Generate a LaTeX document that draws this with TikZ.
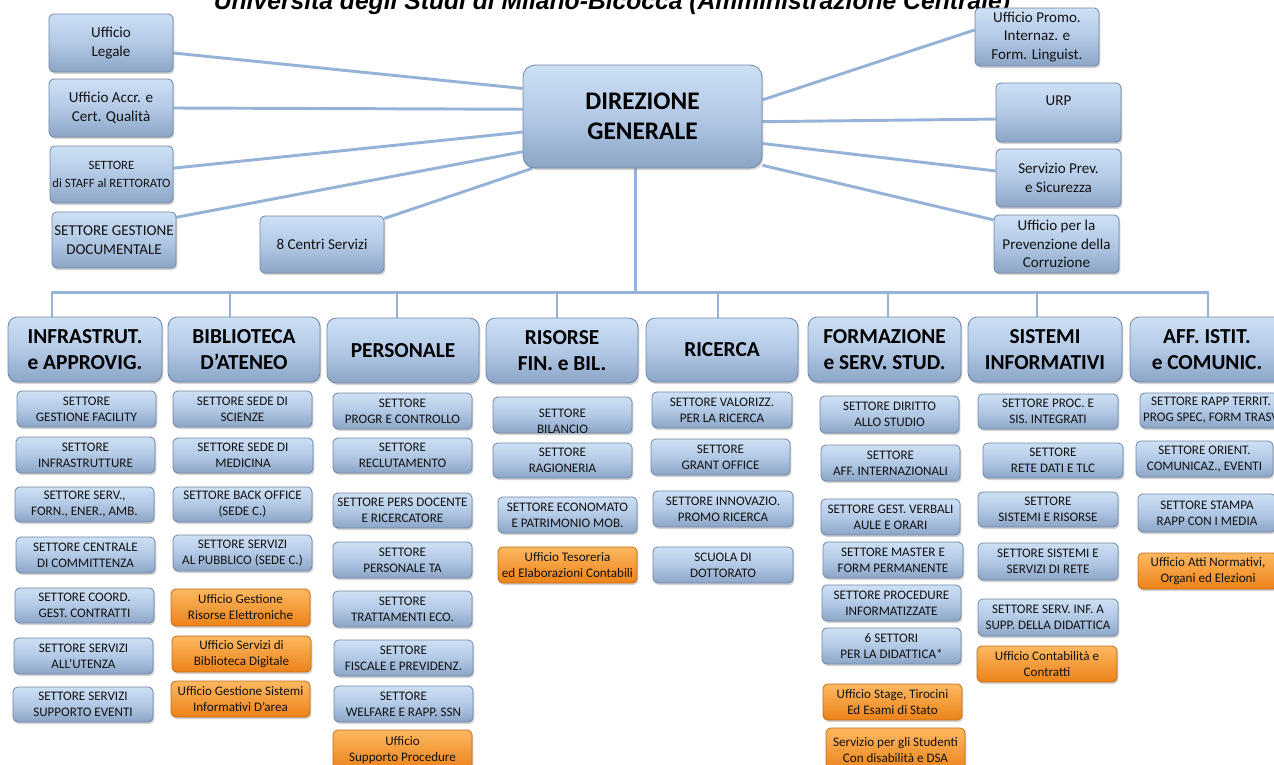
\documentclass[tikz,border=0pt]{standalone}
\usepackage{fontspec}
\setmainfont{Carlito}
\newfontfamily\ttlfont{Liberation Sans}
\usetikzlibrary{shadows,calc}
\definecolor{lnc}{RGB}{149,179,215}
\definecolor{btop}{RGB}{205,224,244}
\definecolor{bmid}{RGB}{178,201,230}
\definecolor{bbot}{RGB}{140,165,198}
\definecolor{bdr}{RGB}{112,134,166}
\definecolor{otop}{RGB}{253,184,96}
\definecolor{obot}{RGB}{236,130,26}
\definecolor{odr}{RGB}{196,108,22}
\definecolor{txt}{RGB}{18,18,18}
\pgfdeclarelayer{bg}\pgfsetlayers{bg,main}
\newcommand\mkbox[7]{%
  \pgfmathsetmacro\mbX{(#3+#5)/2}%
  \pgfmathsetmacro\mbY{(#4+#6)/2}%
  \pgfmathsetmacro\mbW{(#5-#3)*0.75}%
  \pgfmathsetmacro\mbH{(#6-#4)*0.75}%
  \node[#2, minimum width=\mbW pt, minimum height=\mbH pt] (#1) at (\mbX,\mbY) {#7};}
\begin{document}
\begin{tikzpicture}[x=0.75pt,y=-0.75pt,
  base/.style={rounded corners=3.5pt, align=center, inner sep=1pt, text=txt, line width=0.6pt,
    drop shadow={opacity=0.35,shadow xshift=1pt,shadow yshift=-1.5pt}},
  bluebox/.style={base, draw=bdr, top color=btop, bottom color=bbot, middle color=bmid},
  orbox/.style={base, draw=odr, top color=otop, bottom color=obot},
  sub/.style={bluebox, font=\fontsize{9.8}{12}\selectfont},
  osub/.style={orbox, font=\fontsize{9.8}{12}\selectfont},
  topb/.style={bluebox, font=\fontsize{11.3}{14}\selectfont},
  head/.style={bluebox, rounded corners=7pt, text=black, font=\fontsize{16}{20}\selectfont\bfseries},
  dgs/.style={bluebox, rounded corners=9pt, text=black, font=\fontsize{19}{22.5}\selectfont\bfseries},
  conn/.style={draw=lnc, line width=2.2pt}
]
\useasboundingbox (0,0) rectangle (1274,764);
\clip (0,0) rectangle (1274,764);

% title (cut at top)
\node[font=\ttlfont\bfseries\itshape\fontsize{18.5}{22}\selectfont, anchor=base, text=black, inner sep=0pt] (title) at (612,9.5) {Università degli Studi di Milano-Bicocca (Amministrazione Centrale)};

% top level
\mkbox{dg}{dgs}{523}{65}{762}{168}{DIREZIONE\\GENERALE}
\mkbox{leg}{topb}{49}{14}{173}{72}{Ufficio\\Legale}
\mkbox{acc}{topb}{49}{79}{173}{137}{Ufficio Accr. e\\Cert. Qualità}
\mkbox{staff}{topb,font=\fontsize{9.5}{14}\selectfont}{50}{146}{173}{203}{SETTORE\\di STAFF al RETTORATO}
\mkbox{doc}{topb}{52}{212}{176}{268}{SETTORE GESTIONE\\DOCUMENTALE}
\mkbox{cen}{topb}{260}{216}{384}{273}{8 Centri Servizi}
\mkbox{pro}{topb}{975}{8}{1099}{66}{Ufficio Promo.\\Internaz. e\\Form. Linguist.}
\mkbox{urp}{topb}{996}{83}{1121}{142}{URP\\[4pt]}
\mkbox{sic}{topb}{996}{149}{1121}{207}{Servizio Prev.\\e Sicurezza}
\mkbox{cor}{topb}{994}{215}{1119}{273}{Ufficio per la\\Prevenzione della\\Corruzione}

% heads
\mkbox{h1}{head}{8}{317}{162}{382}{INFRASTRUT.\\e APPROVIG.}
\mkbox{h2}{head}{168}{317}{320}{382}{BIBLIOTECA\\D’ATENEO}
\mkbox{h3}{head}{327}{318}{479}{383}{PERSONALE}
\mkbox{h4}{head}{486}{318}{638}{383}{RISORSE\\FIN. e BIL.}
\mkbox{h5}{head}{646}{318}{798}{382}{RICERCA}
\mkbox{h6}{head}{808}{317}{961}{382}{FORMAZIONE\\e SERV. STUD.}
\mkbox{h7}{head}{968}{317}{1122}{382}{SISTEMI\\INFORMATIVI}
\mkbox{h8}{head}{1130}{317}{1284}{382}{AFF. ISTIT.\\e COMUNIC.}

% column 1
\mkbox{s11}{sub}{17}{391}{156}{427}{SETTORE\\GESTIONE FACILITY}
\mkbox{s12}{sub}{16}{437}{155}{473}{SETTORE\\INFRASTRUTTURE}
\mkbox{s13}{sub}{15}{487}{154}{522}{SETTORE SERV.,\\FORN., ENER., AMB.}
\mkbox{s14}{sub}{16}{537}{155}{573}{SETTORE CENTRALE\\DI COMMITTENZA}
\mkbox{s15}{sub}{15}{588}{154}{623}{SETTORE COORD.\\GEST. CONTRATTI}
\mkbox{s16}{sub}{14}{638}{153}{674}{SETTORE SERVIZI\\ALL’UTENZA}
\mkbox{s17}{sub}{13}{687}{153}{722}{SETTORE SERVIZI\\SUPPORTO EVENTI}
% column 2
\mkbox{s21}{sub}{173}{391}{312}{427}{SETTORE SEDE DI\\SCIENZE}
\mkbox{s22}{sub}{173}{438}{313}{473}{SETTORE SEDE DI\\MEDICINA}
\mkbox{s23}{sub}{173}{487}{312}{522}{SETTORE BACK OFFICE\\(SEDE C.)}
\mkbox{s24}{sub}{173}{535}{312}{571}{SETTORE SERVIZI\\AL PUBBLICO (SEDE C.)}
\mkbox{o21}{osub}{171}{589}{310}{626}{Ufficio Gestione\\Risorse Elettroniche}
\mkbox{o22}{osub}{172}{636}{311}{672}{Ufficio Servizi di\\Biblioteca Digitale}
\mkbox{o23}{osub}{171}{681}{310}{717}{Ufficio Gestione Sistemi\\Informativi D’area}
% column 3
\mkbox{s31}{sub}{333}{393}{472}{429}{SETTORE\\PROGR E CONTROLLO}
\mkbox{s32}{sub}{333}{438}{472}{473}{SETTORE\\RECLUTAMENTO}
\mkbox{s33}{sub}{333}{493}{472}{528}{SETTORE PERS DOCENTE\\E RICERCATORE}
\mkbox{s34}{sub}{333}{542}{472}{578}{SETTORE\\PERSONALE TA}
\mkbox{s35}{sub}{333}{591}{472}{627}{SETTORE\\TRATTAMENTI ECO.}
\mkbox{s36}{sub}{334}{640}{473}{676}{SETTORE\\FISCALE E PREVIDENZ.}
\mkbox{s37}{sub}{334}{686}{473}{722}{SETTORE\\WELFARE E RAPP. SSN}
\mkbox{o31}{osub}{333}{730}{472}{770}{Ufficio\\Supporto Procedure}
% column 4
\mkbox{s41}{sub}{493}{397}{632}{433}{}
\node[font=\fontsize{9.8}{12}\selectfont, text=txt, align=center, inner sep=0pt] (s41t) at ($(s41.center)+(0,6)$) {SETTORE\\BILANCIO};
\mkbox{s42}{sub}{493}{443}{632}{478}{SETTORE\\RAGIONERIA}
\mkbox{s43}{sub}{498}{497}{637}{533}{SETTORE ECONOMATO\\E PATRIMONIO MOB.}
\mkbox{o41}{osub}{498}{547}{637}{583}{Ufficio Tesoreria\\ed Elaborazioni Contabili}
% column 5
\mkbox{s51}{sub}{652}{392}{792}{428}{SETTORE VALORIZZ.\\PER LA RICERCA}
\mkbox{s52}{sub}{651}{439}{790}{475}{SETTORE\\GRANT OFFICE}
\mkbox{s53}{sub}{653}{491}{793}{527}{SETTORE INNOVAZIO.\\PROMO RICERCA}
\mkbox{s54}{sub}{653}{547}{793}{583}{SCUOLA DI\\DOTTORATO}
% column 6
\mkbox{s61}{sub}{820}{396}{959}{433}{SETTORE DIRITTO\\ALLO STUDIO}
\mkbox{s62}{sub}{821}{445}{960}{481}{SETTORE\\AFF. INTERNAZIONALI}
\mkbox{s63}{sub}{821}{499}{960}{535}{SETTORE GEST. VERBALI\\AULE E ORARI}
\mkbox{s64}{sub}{823}{542}{963}{578}{SETTORE MASTER E\\FORM PERMANENTE}
\mkbox{s65}{sub}{822}{585}{961}{621}{SETTORE PROCEDURE\\INFORMATIZZATE}
\mkbox{s66}{sub}{822}{628}{961}{664}{6 SETTORI\\PER LA DIDATTICA*}
\mkbox{o61}{osub}{823}{684}{962}{720}{Ufficio Stage, Tirocini\\Ed Esami di Stato}
\mkbox{o62}{osub}{826}{728}{965}{772}{Servizio per gli Studenti\\Con disabilità e DSA}
% column 7
\mkbox{s71}{sub}{978}{394}{1118}{429}{SETTORE PROC. E\\SIS. INTEGRATI}
\mkbox{s72}{sub}{983}{443}{1123}{478}{SETTORE\\RETE DATI E TLC}
\mkbox{s73}{sub}{978}{492}{1118}{527}{SETTORE\\SISTEMI E RISORSE}
\mkbox{s74}{sub}{978}{543}{1118}{580}{SETTORE SISTEMI E\\SERVIZI DI RETE}
\mkbox{s75}{sub}{978}{599}{1118}{636}{SETTORE SERV. INF. A\\SUPP. DELLA DIDATTICA}
\mkbox{o71}{osub}{977}{646}{1117}{682}{Ufficio Contabilità e\\Contratti}
% column 8
\mkbox{s81}{sub}{1140}{393}{1282}{428}{SETTORE RAPP TERRIT.\\PROG SPEC, FORM TRASV}
\mkbox{s82}{sub}{1136}{441}{1273}{477}{SETTORE ORIENT.\\COMUNICAZ., EVENTI}
\mkbox{s83}{sub}{1138}{494}{1276}{532}{SETTORE STAMPA\\RAPP CON I MEDIA}
\mkbox{o81}{osub}{1138}{553}{1278}{589}{Ufficio Atti Normativi,\\Organi ed Elezioni}

\begin{pgfonlayer}{bg}
  % staff lines, left
  \draw[conn] ($(leg.north east)!0.67!(leg.south east)$) -- ($(dg.north west)!0.23!(dg.south west)$);
  \draw[conn] ($(acc.north east)!0.5!(acc.south east)$) -- ($(dg.north west)!0.43!(dg.south west)$);
  \draw[conn] ($(staff.north east)!0.39!(staff.south east)$) -- ($(dg.north west)!0.65!(dg.south west)$);
  \draw[conn] ($(doc.north east)!0.1!(doc.south east)$) -- ($(dg.north west)!0.84!(dg.south west)$);
  \draw[conn] ($(cen.north east)!0.05!(cen.south east)$) -- ($(dg.south west)!0.04!(dg.south east)$);
  % right
  \draw[conn] ($(dg.north east)!0.34!(dg.south east)$) -- ($(pro.north west)!0.38!(pro.south west)$);
  \draw[conn] ($(dg.north east)!0.55!(dg.south east)$) -- ($(urp.north west)!0.61!(urp.south west)$);
  \draw[conn] ($(dg.north east)!0.76!(dg.south east)$) -- ($(sic.north west)!0.38!(sic.south west)$);
  \draw[conn] ($(dg.north east)!0.97!(dg.south east)$) -- ($(cor.north west)!0.09!(cor.south west)$);
  % bus
  \coordinate (bt) at ($(dg.south)+(-7,0)$);
  \coordinate (bj) at ($(bt)+(0,124)$);
  \draw[conn] (bt) -- (bj);
  \foreach \h/\dx in {h1/-33,h2/-14,h3/-6,h4/-5,h5/-4,h6/3.5,h7/-8,h8/1}{
    \path ($(\h.north)+(\dx,0)$) coordinate (d\h);
    \draw[conn] (d\h) -- (d\h |- bj);
  }
  \draw[conn, line cap=round] (dh1 |- bj) -- (dh8 |- bj);
\end{pgfonlayer}
\end{tikzpicture}
\end{document}
